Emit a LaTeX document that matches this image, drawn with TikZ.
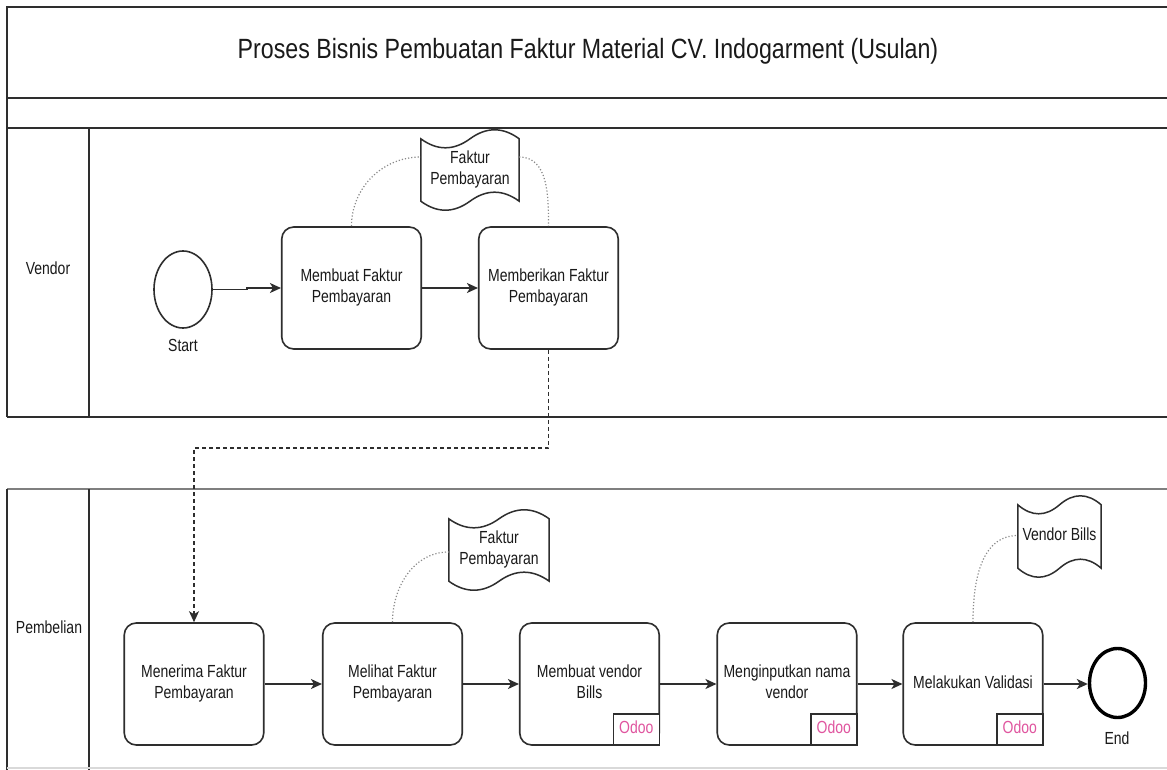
\documentclass[tikz,border=0pt]{standalone}
\usepackage{fontspec}
\setmainfont{Liberation Sans}
\usepackage{graphicx}
\usetikzlibrary{shapes.geometric,arrows.meta,calc}
\definecolor{ln}{HTML}{2E2E2E}
\definecolor{tx}{HTML}{1A1A1A}
\definecolor{odoo}{HTML}{E0559F}
\definecolor{dotc}{HTML}{8A8A8A}
\definecolor{lanegray}{HTML}{7F7F7F}
\newcommand{\vs}[1]{\scalebox{1}[1.25]{\begin{tabular}{@{}c@{}}#1\end{tabular}}}
\newcommand{\tapeshape}[1]{%
\draw[docline]
 ($(#1.north west)+(0,10)$)
 .. controls ($(#1.north west)!0.1667!(#1.north east)+(0,22)$) and ($(#1.north west)!0.3333!(#1.north east)+(0,22)$) ..
 ($(#1.north)+(0,10)$)
 .. controls ($(#1.north west)!0.6667!(#1.north east)+(0,-2)$) and ($(#1.north west)!0.8333!(#1.north east)+(0,-2)$) ..
 ($(#1.north east)+(0,10)$)
 -- ($(#1.south east)+(0,-10)$)
 .. controls ($(#1.south west)!0.8333!(#1.south east)+(0,-22)$) and ($(#1.south west)!0.6667!(#1.south east)+(0,-22)$) ..
 ($(#1.south)+(0,-10)$)
 .. controls ($(#1.south west)!0.3333!(#1.south east)+(0,2)$) and ($(#1.south west)!0.1667!(#1.south east)+(0,2)$) ..
 ($(#1.south west)+(0,-10)$) -- cycle;}
\tikzset{
  frameline/.style={draw=ln, line width=1.9pt},
  task/.style={draw=ln, line width=1.6pt, rounded corners=12pt, fill=white,
    minimum width=139.5pt, minimum height=122pt, inner sep=0pt, text=tx,
    font=\fontsize{14}{17}\selectfont},
  odootag/.style={draw=ln, line width=1.4pt, fill=white, minimum width=46pt,
    minimum height=31pt, inner sep=0pt, text=odoo, font=\fontsize{14}{17}\selectfont},
  docnode/.style={inner sep=0pt, text=tx, font=\fontsize{14}{17}\selectfont},
  docline/.style={draw=ln, line width=1.5pt, fill=white},
  lbl/.style={inner sep=0pt, text=tx, font=\fontsize{14}{17}\selectfont},
  flow/.style={draw=ln, line width=1.6pt, -{Stealth[length=11pt,width=10pt,inset=3pt]}},
  msg/.style={draw=ln, line width=1.4pt, dash pattern=on 4pt off 3pt, -{Stealth[length=11pt,width=10pt,inset=3pt]}},
  assoc/.style={draw=dotc, line width=1.2pt, dotted},
  evstart/.style={ellipse, draw=ln, line width=1.6pt, fill=white, inner sep=0pt, minimum width=58pt, minimum height=77pt},
  evend/.style={ellipse, draw=black, line width=3.4pt, fill=white, inner sep=0pt, minimum width=56pt, minimum height=69pt},
}
\begin{document}
\begin{tikzpicture}[x=1pt,y=-1pt]
\useasboundingbox (0,0) rectangle (1167,770);
\fill[white] (0,0) rectangle (1167,770);
% pool frame
\draw[frameline] (1167,7) -- (7,7) -- (7,417);
\draw[frameline] (7,98) -- (1167,98);
\draw[frameline] (7,128) -- (1167,128);
\draw[frameline] (89,128) -- (89,417);
\draw[frameline] (7,417) -- (1167,417);
\draw[draw=lanegray, line width=2.8pt] (7,489) -- (1167,489);
\draw[frameline] (7,489) -- (7,770);
\draw[frameline] (89,489) -- (89,770);
\draw[draw=gray!30, line width=1.5pt] (7,768) -- (1167,768);
% title and lane labels
\node[inner sep=0pt, text=tx, font=\fontsize{23.2}{27}\selectfont] (title) at (588,51) {\scalebox{1}[1.2]{Proses Bisnis Pembuatan Faktur Material CV. Indogarment (Usulan)}};
\node[lbl] (lvendor) at (48,270) {\vs{Vendor}};
\node[lbl] (lpemb) at (49,629) {\vs{Pembelian}};
% vendor lane
\node[evstart] (start) at (183,289.5) {};
\node[lbl] (startl) at (183,347) {\vs{Start}};
\node[task] (b1) at (351.5,288) {\vs{Membuat Faktur\\Pembayaran}};
\node[task] (b2) at (548.5,288) {\vs{Memberikan Faktur\\Pembayaran}};
\node[docnode, minimum width=98pt, minimum height=82pt] (d1) at (470,170) {};
\tapeshape{d1}
\node[docnode] (d1t) at (d1) {\vs{Faktur\\Pembayaran}};
% pembelian lane
\node[task] (p1) at (194,684) {\vs{Menerima Faktur\\Pembayaran}};
\node[task] (p2) at (392.5,684) {\vs{Melihat Faktur\\Pembayaran}};
\node[task] (p3) at (589.5,684) {\vs{Membuat vendor\\Bills}};
\node[task] (p4) at (787,684) {\vs{Menginputkan nama\\vendor}};
\node[task] (p5) at (973,684) {\vs{Melakukan Validasi}};
\node[odootag, anchor=south east] (o3) at (p3.south east) {\vs{Odoo}};
\node[odootag, anchor=south east] (o4) at (p4.south east) {\vs{Odoo}};
\node[odootag, anchor=south east] (o5) at (p5.south east) {\vs{Odoo}};
\node[evend] (end) at (1117.5,683) {};
\node[lbl] (endl) at (1117,740) {\vs{End}};
\node[docnode, minimum width=100pt, minimum height=82pt] (d2) at (499,550) {};
\tapeshape{d2}
\node[docnode] (d2t) at (d2) {\vs{Faktur\\Pembayaran}};
\node[docnode, minimum width=83pt, minimum height=83pt] (d3) at (1059.5,536.5) {};
\tapeshape{d3}
\node[docnode] (d3t) at (d3) {\vs{Vendor Bills}};
% connectors
\coordinate (jog) at (247,289.5);
\draw[flow] (start.east) -- (jog) |- (b1.west);
\draw[flow] (b1.east) -- (b2.west);
\coordinate (dk) at (548.5,448);
\draw[msg] (b2.south) -- (dk) -| (p1.north);
\draw[flow] (p1.east) -- (p2.west);
\draw[flow] (p2.east) -- (p3.west);
\draw[flow] (p3.east) -- (p4.west);
\draw[flow] (p4.east) -- (p5.west);
\draw[flow] (p5.east) -- (p5.east -| end.west);
% associations
\draw[assoc] (b1.north) to[out=90,in=180] ($(d1.west)+(0,-13)$);
\draw[assoc] ($(d1.east)+(0,-13)$) to[out=0,in=90] (b2.north);
\draw[assoc] (p2.north) to[out=90,in=180] ($(d2.west)+(0,2)$);
\draw[assoc] (p5.north) to[out=90,in=180] ($(d3.west)+(0,-1)$);
\end{tikzpicture}
\end{document}
